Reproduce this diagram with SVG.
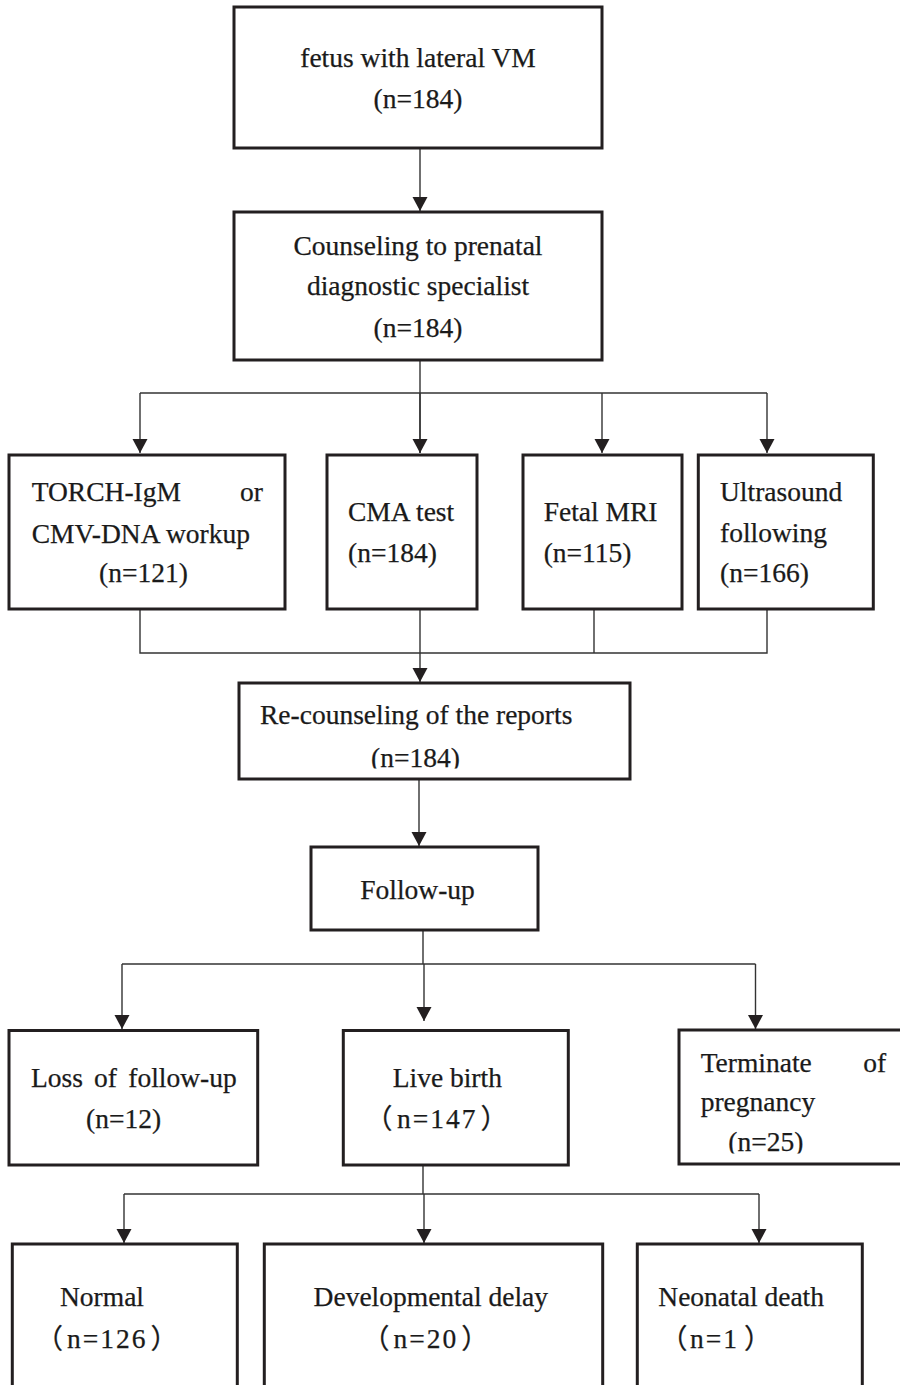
<svg xmlns="http://www.w3.org/2000/svg" width="900" height="1385" viewBox="0 0 900 1385">
<style>
.box{fill:#fff;stroke:#231f20;stroke-width:3}
.t{font-family:"Liberation Serif","Noto Sans CJK SC",serif;font-size:27.5px;fill:#1a1a1a;stroke:#1a1a1a;stroke-width:0.25}
.c{text-anchor:middle}
.w{letter-spacing:2px}
.ln{fill:none;stroke:#333;stroke-width:1.4}
</style>
<defs>
<marker id="ah" markerUnits="userSpaceOnUse" markerWidth="15" markerHeight="16" refX="14" refY="7.5" orient="auto" viewBox="0 0 15 16">
<path d="M0,0 L14,7.5 L0,15 z" fill="#231f20"/>
</marker>
<clipPath id="clipRe"><rect x="230" y="680" width="410" height="88.5"/></clipPath>
<clipPath id="clipTerm"><rect x="670" y="1025" width="240" height="128.5"/></clipPath>
</defs>
<rect width="900" height="1385" fill="#fff"/>

<g id="connectors">
<path class="ln" d="M420,148 V211" marker-end="url(#ah)"/>
<path class="ln" d="M420,360 V453"/>
<path class="ln" d="M140,393 H767"/>
<path class="ln" d="M140,393 V453" marker-end="url(#ah)"/>
<path class="ln" d="M420,393 V453" marker-end="url(#ah)"/>
<path class="ln" d="M602,393 V453" marker-end="url(#ah)"/>
<path class="ln" d="M767,393 V453" marker-end="url(#ah)"/>
<path class="ln" d="M140,609 V653 H767 V609"/>
<path class="ln" d="M594,609 V653"/>
<path class="ln" d="M420,609 V682" marker-end="url(#ah)"/>
<path class="ln" d="M419,779 V846" marker-end="url(#ah)"/>
<path class="ln" d="M423,930 V964"/>
<path class="ln" d="M122,964 H755.5"/>
<path class="ln" d="M122,964 V1029" marker-end="url(#ah)"/>
<path class="ln" d="M424,964 V1021" marker-end="url(#ah)"/>
<path class="ln" d="M755.5,964 V1029" marker-end="url(#ah)"/>
<path class="ln" d="M423,1165 V1194"/>
<path class="ln" d="M124,1194 H759"/>
<path class="ln" d="M124,1194 V1243" marker-end="url(#ah)"/>
<path class="ln" d="M424,1194 V1243" marker-end="url(#ah)"/>
<path class="ln" d="M759,1194 V1243" marker-end="url(#ah)"/>
</g>

<g id="n-fetus">
<rect class="box" x="234" y="7" width="368" height="141"/>
<text class="t c" x="418" y="66.7">fetus with lateral VM</text>
<text class="t c" x="418" y="108.3">(n=184)</text>
</g>

<g id="n-counseling">
<rect class="box" x="234" y="212" width="368" height="148"/>
<text class="t c" x="418" y="255">Counseling to prenatal</text>
<text class="t c" x="418" y="295">diagnostic specialist</text>
<text class="t c" x="418" y="337.3">(n=184)</text>
</g>

<g id="n-torch">
<rect class="box" x="9" y="455" width="276" height="154"/>
<text class="t" y="501"><tspan x="31.7">TORCH-IgM</tspan><tspan x="240">or</tspan></text>
<text class="t" x="31.7" y="542.7">CMV-DNA workup</text>
<text class="t" x="99" y="582">(n=121)</text>
</g>

<g id="n-cma">
<rect class="box" x="327" y="455" width="150" height="154"/>
<text class="t" x="348" y="520.7">CMA test</text>
<text class="t" x="348" y="561.7">(n=184)</text>
</g>

<g id="n-mri">
<rect class="box" x="523" y="455" width="159" height="154"/>
<text class="t" x="543.7" y="520.7">Fetal MRI</text>
<text class="t" x="543.7" y="561.7">(n=115)</text>
</g>

<g id="n-ultrasound">
<rect class="box" x="698.3" y="455" width="175" height="154"/>
<text class="t" x="720" y="501">Ultrasound</text>
<text class="t" x="720" y="541.7">following</text>
<text class="t" x="720" y="582">(n=166)</text>
</g>

<g id="n-recounseling">
<rect class="box" x="239" y="683" width="391" height="96"/>
<text class="t" x="260" y="724">Re-counseling of the reports</text>
<text class="t" x="371" y="767" clip-path="url(#clipRe)">(n=184)</text>
</g>

<g id="n-followup">
<rect class="box" x="311" y="847" width="227" height="83"/>
<text class="t c" x="417.5" y="899">Follow-up</text>
</g>

<g id="n-loss">
<rect class="box" x="9" y="1030.5" width="248.7" height="134.5"/>
<text class="t" y="1086.7"><tspan x="31">Loss</tspan><tspan x="94">of</tspan><tspan x="128.3">follow-up</tspan></text>
<text class="t" x="86" y="1128.3">(n=12)</text>
</g>

<g id="n-livebirth">
<rect class="box" x="343.3" y="1030.5" width="225" height="134.5"/>
<text class="t" x="392.7" y="1086.7">Live birth</text>
<text class="t" x="365" y="1128.3">（<tspan class="w" dx="4.5">n=147</tspan><tspan dx="3">）</tspan></text>
</g>

<g id="n-terminate">
<rect class="box" x="679" y="1030" width="230" height="134"/>
<text class="t" y="1071.7"><tspan x="700.7">Terminate</tspan><tspan x="863.3">of</tspan></text>
<text class="t" x="700.7" y="1111">pregnancy</text>
<text class="t" x="728.3" y="1151" clip-path="url(#clipTerm)">(n=25)</text>
</g>

<g id="n-normal">
<rect class="box" x="12.3" y="1244" width="225" height="160"/>
<text class="t" x="60" y="1306">Normal</text>
<text class="t" x="35.5" y="1348.3">（<tspan class="w" dx="4">n=126</tspan><tspan dx="3">）</tspan></text>
</g>

<g id="n-delay">
<rect class="box" x="264.3" y="1244" width="338.4" height="160"/>
<text class="t" x="313.6" y="1306">Developmental delay</text>
<text class="t" x="362" y="1348.3">（<tspan class="w" dx="4">n=20</tspan><tspan dx="3">）</tspan></text>
</g>

<g id="n-death">
<rect class="box" x="637.3" y="1244" width="225" height="160"/>
<text class="t" x="658.3" y="1306">Neonatal death</text>
<text class="t" x="660" y="1348.3">（<tspan class="w" dx="2.5">n=1</tspan><tspan dx="5">）</tspan></text>
</g>
</svg>
